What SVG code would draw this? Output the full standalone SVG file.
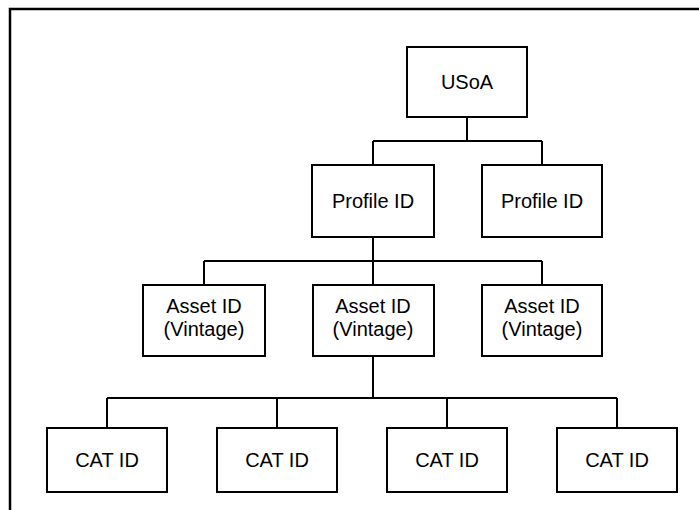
<svg xmlns="http://www.w3.org/2000/svg" width="699" height="510" viewBox="0 0 699 510">
<style>
.box{fill:#fff;stroke:#000;stroke-width:2}
.t{font-family:"Liberation Sans",Arial,sans-serif;font-size:20px;fill:#000;text-anchor:middle}
.c{fill:none;stroke:#000;stroke-width:2}
</style>
<rect width="699" height="510" fill="#fff"/>
<path d="M10 510 V9 H699" fill="none" stroke="#000" stroke-width="2.5"/>
<g id="connectors" class="c">
<path d="M467 117 V141 M373 141 H542 M373 141 V165 M542 141 V165"/>
<path d="M373 237 V261 M204 261 H542 M204 261 V285 M373 261 V285 M542 261 V285"/>
<path d="M373 356 V398 M107 398 H617 M107 398 V428 M277 398 V428 M447 398 V428 M617 398 V428"/>
</g>
<g id="usoa"><rect class="box" x="407" y="47" width="120" height="70"/><text class="t" x="467" y="89">USoA</text></g>
<g id="profile1"><rect class="box" x="312" y="165" width="122" height="72"/><text class="t" x="373" y="208">Profile ID</text></g>
<g id="profile2"><rect class="box" x="482" y="165" width="120" height="72"/><text class="t" x="542" y="208">Profile ID</text></g>
<g id="asset1"><rect class="box" x="143" y="285" width="122" height="71"/><text class="t" x="204" y="313">Asset ID</text><text class="t" x="204" y="336">(Vintage)</text></g>
<g id="asset2"><rect class="box" x="313" y="285" width="121" height="71"/><text class="t" x="373" y="313">Asset ID</text><text class="t" x="373" y="336">(Vintage)</text></g>
<g id="asset3"><rect class="box" x="482" y="285" width="120" height="71"/><text class="t" x="542" y="313">Asset ID</text><text class="t" x="542" y="336">(Vintage)</text></g>
<g id="cat1"><rect class="box" x="47" y="428" width="120" height="64"/><text class="t" x="107" y="467">CAT ID</text></g>
<g id="cat2"><rect class="box" x="217" y="428" width="120" height="64"/><text class="t" x="277" y="467">CAT ID</text></g>
<g id="cat3"><rect class="box" x="387" y="428" width="120" height="64"/><text class="t" x="447" y="467">CAT ID</text></g>
<g id="cat4"><rect class="box" x="557" y="428" width="120" height="64"/><text class="t" x="617" y="467">CAT ID</text></g>
</svg>
